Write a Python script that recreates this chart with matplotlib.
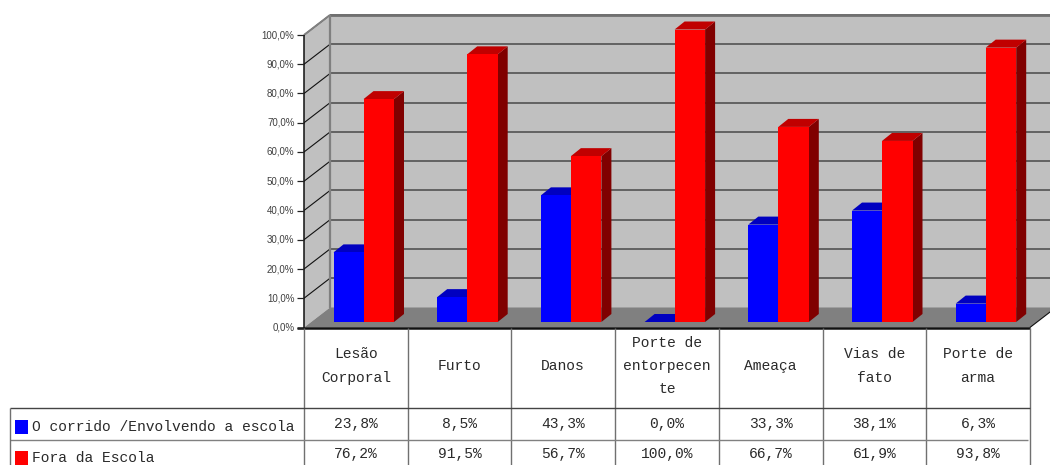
import matplotlib
matplotlib.use("Agg")
import matplotlib.pyplot as plt
from matplotlib.patches import Polygon, Rectangle

categories = ["Lesão\nCorporal", "Furto", "Danos", "Porte de\nentorpecen\nte", "Ameaça", "Vias de\nfato", "Porte de\narma"]
series_names = ["O corrido /Envolvendo a escola", "Fora da Escola"]
ocorrido = [23.8, 8.5, 43.3, 0.0, 33.3, 38.1, 6.3]
fora = [76.2, 91.5, 56.7, 100.0, 66.7, 61.9, 93.8]
ocorrido_labels = ["23,8%", "8,5%", "43,3%", "0,0%", "33,3%", "38,1%", "6,3%"]
fora_labels = ["76,2%", "91,5%", "56,7%", "100,0%", "66,7%", "61,9%", "93,8%"]
y_ticks = list(range(0, 101, 10))

CAT_PX = 103.7
PCT_PX = 2.925
MONO = "Liberation Mono"


def sx(px):
    return px / CAT_PX


def sy(px):
    return px / PCT_PX


fig = plt.figure(figsize=(10.5, 4.65), dpi=100)
ax = fig.add_axes([304 / 1050, (465 - 327.5) / 465, 7 * CAT_PX / 1050, 100 * PCT_PX / 465])
ax.set_xlim(0, 7)
ax.set_ylim(0, 100)
ax.axis("off")

dx, dy = sx(26), sy(20)
n = len(categories)


def poly(pts, color, z, edge="none", lw=0):
    ax.add_patch(Polygon(pts, closed=True, facecolor=color, edgecolor=edge, linewidth=lw, zorder=z, clip_on=False))


def line(xs, ys, color, lw, z=3):
    ax.plot(xs, ys, color=color, linewidth=lw, zorder=z, clip_on=False, solid_capstyle="butt")


# walls and floor
poly([(dx, dy), (n + dx, dy), (n + dx, 100 + dy), (dx, 100 + dy)], "#c0c0c0", 1)
poly([(0, 0), (dx, dy), (dx, 100 + dy), (0, 100)], "#c0c0c0", 1)
poly([(0, 0), (n, 0), (n + dx, dy), (dx, dy)], "#808080", 1)

for t in y_ticks[1:]:
    line([dx, n + dx], [t + dy, t + dy], "#484848", 1.1, 2)
    line([0, dx], [t, t + dy], "#111111", 0.8, 2)
line([dx, n + dx], [100 + dy, 100 + dy], "#707070", 2.0, 2)
line([0, dx], [100, 100 + dy], "#808080", 1.4, 2)
line([dx, dx], [dy, 100 + dy], "#808080", 1.6, 2)
line([n, n + dx], [0, dy], "#111111", 0.8, 2)


def bar3d(left, width, value, front, top, side, z):
    base = sy(5.5)
    d_x, d_y = sx(10), sy(8)
    h = value + base
    poly([(left + width, base), (left + width + d_x, base + d_y), (left + width + d_x, h + d_y), (left + width, h)], side, z)
    poly([(left, h), (left + width, h), (left + width + d_x, h + d_y), (left + d_x, h + d_y)], top, z)
    if value > 0:
        ax.add_patch(Rectangle((left, base), width, value, facecolor=front, edgecolor="none", zorder=z, clip_on=False))


for i in range(n):
    bar3d(i + sx(29.5), sx(30), ocorrido[i], "#0000ff", "#0000c0", "#000080", 4)
    bar3d(i + sx(59.5), sx(30.5), fora[i], "#ff0000", "#c00000", "#800000", 5)

# y axis
line([0, 0], [0, 100], "#111111", 1.1, 6)
line([sx(-7), n], [0, 0], "#111111", 1.8, 6)
for t in y_ticks:
    line([sx(-7), 0], [t, t], "#222222", 0.9, 6)
    ax.text(sx(-9.5), t, f"{t},0%", ha="right", va="center", fontsize=7, color="#404040",
            family="Liberation Sans", clip_on=False)

# table under the chart, positions in px below the axis
y_cat = -sy(80.5)
y_leg = -sy(112.5)
y_bot = -sy(140)
for i in range(n + 1):
    line([i, i], [0, y_bot], "#707070", 1.0, 6)
line([-sx(294), n], [y_cat, y_cat], "#444444", 1.0, 6)
line([-sx(294), n - sx(2)], [y_leg, y_leg], "#808080", 1.0, 6)
line([-sx(294), -sx(294)], [y_cat, y_bot], "#707070", 1.0, 6)

for i, name in enumerate(categories):
    ax.text(i + 0.5, sy(-38.5), name, ha="center", va="center", fontsize=10.5, color="#2a2a2a",
            family=MONO, linespacing=1.86, clip_on=False)
    ax.text(i + 0.5, sy(-96), ocorrido_labels[i], ha="center", va="center", fontsize=10.5, color="#2a2a2a",
            family=MONO, clip_on=False)
    ax.text(i + 0.5, sy(-126.5), fora_labels[i], ha="center", va="center", fontsize=10.5, color="#2a2a2a",
            family=MONO, clip_on=False)

legend_colors = ["#0000ff", "#ff0000"]
for j, (name, col) in enumerate(zip(series_names, legend_colors)):
    ypx = -99 - j * 31
    ax.add_patch(Rectangle((-sx(289), sy(ypx - 7)), sx(13), sy(13.5), facecolor=col, edgecolor="none", zorder=7, clip_on=False))
    ax.text(-sx(272), sy(ypx), name, ha="left", va="center", fontsize=10.5, color="#2a2a2a",
            family=MONO, clip_on=False)

fig.savefig("out.png", dpi=100)
